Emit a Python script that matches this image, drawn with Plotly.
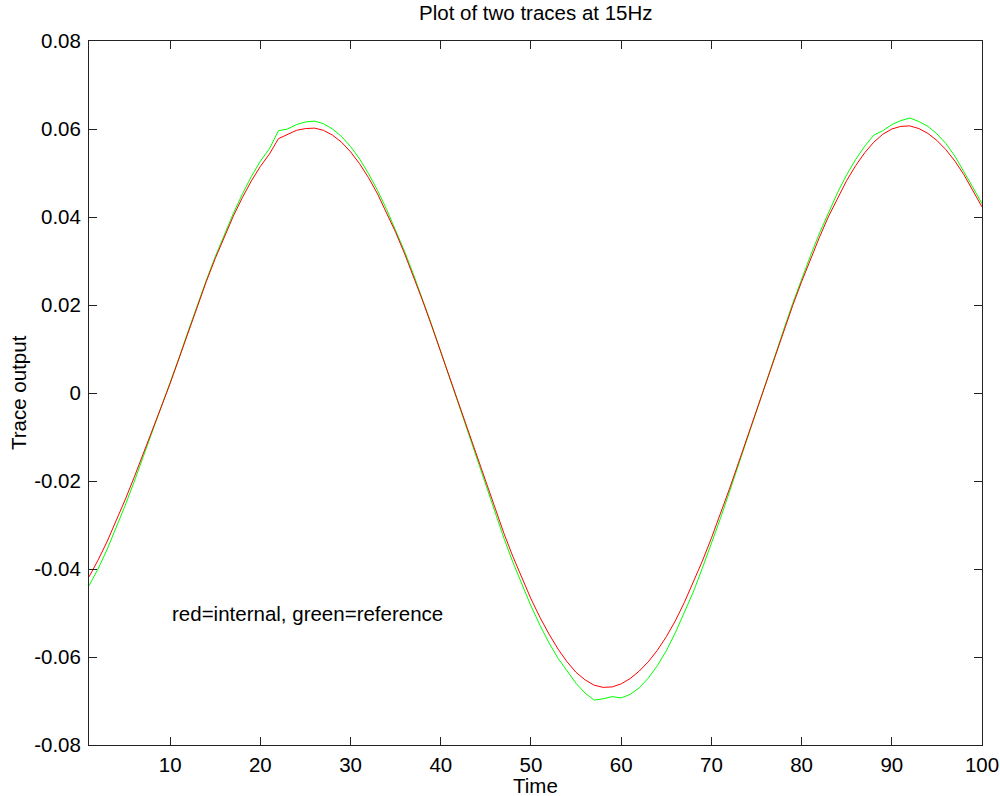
import plotly.graph_objects as go

time = list(range(1, 101))

red_internal = [
    -0.0418, -0.0380, -0.0338, -0.0292, -0.0243, -0.0192, -0.0140, -0.0086, -0.0032, 0.0022,
    0.0081, 0.0140, 0.0198, 0.0253, 0.0306, 0.0355, 0.0402, 0.0444, 0.0482, 0.0515,
    0.0543, 0.0578, 0.0588, 0.0597, 0.0601, 0.0602, 0.0597, 0.0586, 0.0570, 0.0548,
    0.0521, 0.0489, 0.0452, 0.0410, 0.0365, 0.0316, 0.0264, 0.0209, 0.0152, 0.0093,
    0.0033, -0.0027, -0.0087, -0.0147, -0.0206, -0.0264, -0.0319, -0.0372, -0.0421, -0.0468,
    -0.0510, -0.0548, -0.0582, -0.0611, -0.0635, -0.0652, -0.0664, -0.0669, -0.0668, -0.0661,
    -0.0649, -0.0632, -0.0611, -0.0585, -0.0554, -0.0518, -0.0476, -0.0431, -0.0382, -0.0330,
    -0.0275, -0.0218, -0.0159, -0.0099, -0.0039, 0.0021, 0.0081, 0.0140, 0.0198, 0.0253,
    0.0306, 0.0355, 0.0402, 0.0444, 0.0483, 0.0517, 0.0546, 0.0570, 0.0588, 0.0600,
    0.0606, 0.0607, 0.0601, 0.0590, 0.0574, 0.0553, 0.0527, 0.0496, 0.0461, 0.0423,
]

green_reference = [
    -0.0438, -0.0400, -0.0356, -0.0308, -0.0256, -0.0202, -0.0146, -0.0090, -0.0033, 0.0022,
    0.0081, 0.0141, 0.0200, 0.0256, 0.0310, 0.0360, 0.0408, 0.0452, 0.0492, 0.0527,
    0.0555, 0.0596, 0.0600, 0.0610, 0.0616, 0.0618, 0.0612, 0.0600, 0.0583, 0.0560,
    0.0532, 0.0498, 0.0460, 0.0417, 0.0371, 0.0321, 0.0268, 0.0212, 0.0154, 0.0094,
    0.0033, -0.0028, -0.0090, -0.0152, -0.0213, -0.0273, -0.0330, -0.0385, -0.0436, -0.0484,
    -0.0528, -0.0568, -0.0603, -0.0633, -0.0660, -0.0682, -0.0698, -0.0695, -0.0690, -0.0693,
    -0.0685, -0.0670, -0.0648, -0.0620, -0.0586, -0.0545, -0.0500, -0.0452, -0.0398, -0.0343,
    -0.0285, -0.0225, -0.0163, -0.0101, -0.0040, 0.0021, 0.0082, 0.0143, 0.0203, 0.0259,
    0.0313, 0.0364, 0.0412, 0.0456, 0.0496, 0.0531, 0.0561, 0.0586, 0.0596, 0.0610,
    0.0619, 0.0625, 0.0617, 0.0606, 0.0589, 0.0567, 0.0538, 0.0504, 0.0467, 0.0430,
]

x_ticks = [10, 20, 30, 40, 50, 60, 70, 80, 90, 100]
y_ticks = [-0.08, -0.06, -0.04, -0.02, 0, 0.02, 0.04, 0.06, 0.08]
y_tick_labels = ["-0.08", "-0.06", "-0.04", "-0.02", "0", "0.02", "0.04", "0.06", "0.08"]

FONT = "Liberation Sans, Arial, sans-serif"
FS = 20.5

fig = go.Figure()
fig.add_trace(go.Scatter(x=time, y=green_reference, mode="lines",
                         line=dict(color="#00FF00", width=1), showlegend=False))
fig.add_trace(go.Scatter(x=time, y=red_internal, mode="lines",
                         line=dict(color="#FF0000", width=1), showlegend=False))

axis_common = dict(
    showgrid=False, zeroline=False, showline=True, linecolor="#222222", linewidth=1,
    mirror="ticks", ticks="inside", ticklen=8, tickwidth=1, tickcolor="#222222",
    tickfont=dict(family=FONT, size=FS, color="#000000"), automargin=False,
)

fig.update_xaxes(range=[1, 100], tickmode="array", tickvals=x_ticks,
                 ticklabelstandoff=1, **axis_common)
fig.update_yaxes(range=[-0.08, 0.08], tickmode="array", tickvals=y_ticks,
                 ticktext=y_tick_labels, ticklabelstandoff=3, **axis_common)

fig.update_layout(
    width=1000, height=796,
    margin=dict(l=89, r=18, t=41, b=51, pad=0, autoexpand=False),
    paper_bgcolor="white", plot_bgcolor="white",
    font=dict(family=FONT, size=FS, color="#000000"),
    annotations=[
        dict(text="Plot of two traces at 15Hz", xref="paper", yref="paper", x=0.5, y=1,
             xanchor="center", yanchor="middle", yshift=29, showarrow=False,
             font=dict(family=FONT, size=FS)),
        dict(text="Time", xref="paper", yref="paper", x=0.5, y=0,
             xanchor="center", yanchor="middle", yshift=-40, showarrow=False,
             font=dict(family=FONT, size=FS)),
        dict(text="Trace output", xref="paper", yref="paper", x=0, y=0.5,
             xanchor="center", yanchor="middle", xshift=-71, textangle=-90, showarrow=False,
             font=dict(family=FONT, size=FS)),
        dict(text="red=internal, green=reference", xref="x", yref="y", x=10, y=-0.05,
             xanchor="left", yanchor="middle", showarrow=False,
             font=dict(family=FONT, size=FS)),
    ],
)

fig.write_html("out.html")
